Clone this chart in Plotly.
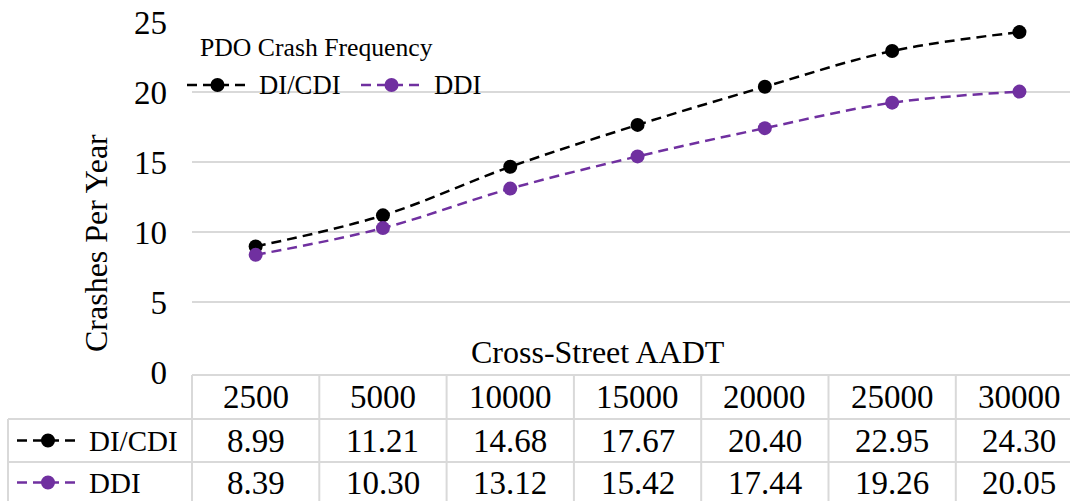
import plotly.graph_objects as go

# ---- data ----
aadt = ["2500", "5000", "10000", "15000", "20000", "25000", "30000"]
di_cdi = [8.99, 11.21, 14.68, 17.67, 20.40, 22.95, 24.30]
ddi = [8.39, 10.30, 13.12, 15.42, 17.44, 19.26, 20.05]
series_names = ["DI/CDI", "DDI"]
series_values = [di_cdi, ddi]
series_colors = ["#000000", "#7030A0"]
y_ticks = [0, 5, 10, 15, 20, 25]

# ---- layout constants (pixels) ----
W, H = 1070, 501
FONT = "Liberation Serif"
GRID = "#d9d9d9"
DASH = "10px,6px"

PLOT_LEFT, PLOT_TOP, PLOT_BOTTOM = 192, 22.3, 372.3
COL_W = 127.3
TABLE_TOP, ROW1_TOP, ROW2_TOP, TABLE_BOTTOM = 375, 419, 462, 505
ROW_HEAD_LEFT = 8

NUM_SIZE = 33      # table numbers
ROWHEAD_SIZE = 29  # table row names
TITLE_SIZE = 32    # axis titles


def fx(p):
    return p / W


def fy(p):
    return 1 - p / H


x_range = [-0.5, -0.5 + (W - PLOT_LEFT) / COL_W]
x_idx = list(range(len(aadt)))

fig = go.Figure()

for name, vals, col in zip(series_names, series_values, series_colors):
    fig.add_trace(go.Scatter(
        x=x_idx, y=vals, mode="lines+markers", name=name,
        line=dict(color=col, width=2.5, dash=DASH, shape="spline", smoothing=1),
        marker=dict(size=14, color=col, line=dict(width=0)),
        showlegend=False, cliponaxis=False,
    ))

shapes = []
annotations = []


def add_key(x0, x1, y, color):
    shapes.append(dict(type="line", xref="paper", yref="paper",
                       x0=fx(x0), x1=fx(x1), y0=fy(y), y1=fy(y),
                       line=dict(color=color, width=2.5, dash=DASH)))
    cx = (x0 + x1) / 2
    shapes.append(dict(type="circle", xref="paper", yref="paper",
                       x0=fx(cx - 7), x1=fx(cx + 7), y0=fy(y + 7), y1=fy(y - 7),
                       fillcolor=color, line=dict(width=0)))


def text(x, y, s, size, xref="paper", xanchor="left"):
    annotations.append(dict(x=x, y=fy(y), xref=xref, yref="paper", text=s,
                            showarrow=False, xanchor=xanchor, yanchor="middle",
                            font=dict(family=FONT, size=size, color="#000")))


# chart title and legend
text(fx(198), 48, "PDO Crash Frequency", 25.7)
legend_x = [(187, 248, 257), (361, 422, 432)]
for (k0, k1, tx), name, col in zip(legend_x, series_names, series_colors):
    add_key(k0, k1, 85, col)
    text(fx(tx), 85, name, 26.7)

# axis titles
annotations.append(dict(x=fx(96), y=fy(243), xref="paper", yref="paper",
                        text="Crashes Per Year", showarrow=False, textangle=-90,
                        xanchor="center", yanchor="middle",
                        font=dict(family=FONT, size=TITLE_SIZE, color="#000")))
text(fx(598), 352, "Cross-Street AADT", TITLE_SIZE, xanchor="center")

# data table grid
line_style = dict(color=GRID, width=2)
shapes.append(dict(type="line", xref="paper", yref="paper", x0=fx(PLOT_LEFT), x1=1,
                   y0=fy(TABLE_TOP), y1=fy(TABLE_TOP), line=line_style))
for yy in (ROW1_TOP, ROW2_TOP, TABLE_BOTTOM):
    shapes.append(dict(type="line", xref="paper", yref="paper", x0=fx(ROW_HEAD_LEFT), x1=1,
                       y0=fy(yy), y1=fy(yy), line=line_style))
shapes.append(dict(type="line", xref="paper", yref="paper", x0=fx(PLOT_LEFT), x1=fx(PLOT_LEFT),
                   y0=fy(TABLE_TOP), y1=fy(TABLE_BOTTOM), line=line_style))
shapes.append(dict(type="line", xref="paper", yref="paper", x0=fx(ROW_HEAD_LEFT), x1=fx(ROW_HEAD_LEFT),
                   y0=fy(ROW1_TOP), y1=fy(TABLE_BOTTOM), line=line_style))
for i in range(1, len(aadt) + 1):
    shapes.append(dict(type="line", xref="x", yref="paper", x0=i - 0.5, x1=i - 0.5,
                       y0=fy(TABLE_TOP), y1=fy(TABLE_BOTTOM), line=line_style))

# table contents
header_y = (TABLE_TOP + ROW1_TOP) / 2
row_ys = [(ROW1_TOP + ROW2_TOP) / 2, (ROW2_TOP + TABLE_BOTTOM) / 2 - 1]
for i, cat in zip(x_idx, aadt):
    text(i, header_y, cat, NUM_SIZE, xref="x", xanchor="center")
for name, vals, col, ry in zip(series_names, series_values, series_colors, row_ys):
    add_key(17, 79, ry, col)
    text(fx(87), ry, name, ROWHEAD_SIZE)
    for i, v in zip(x_idx, vals):
        text(i, ry, f"{v:.2f}", NUM_SIZE, xref="x", xanchor="center")

fig.update_layout(
    width=W, height=H,
    margin=dict(l=0, r=0, t=0, b=0, pad=0),
    paper_bgcolor="white", plot_bgcolor="white",
    showlegend=False,
    xaxis=dict(domain=[fx(PLOT_LEFT), 1], range=x_range, automargin=False,
               showticklabels=False, showgrid=False, zeroline=False, showline=False),
    yaxis=dict(domain=[fy(PLOT_BOTTOM), fy(PLOT_TOP)], range=[0, 25], automargin=False,
               tickvals=y_ticks, ticks="", ticklabelstandoff=24,
               tickfont=dict(family=FONT, size=33, color="#000"),
               showgrid=True, gridcolor=GRID, gridwidth=2,
               zeroline=False, showline=False),
    shapes=shapes,
    annotations=annotations,
)

fig.write_html("out.html")
